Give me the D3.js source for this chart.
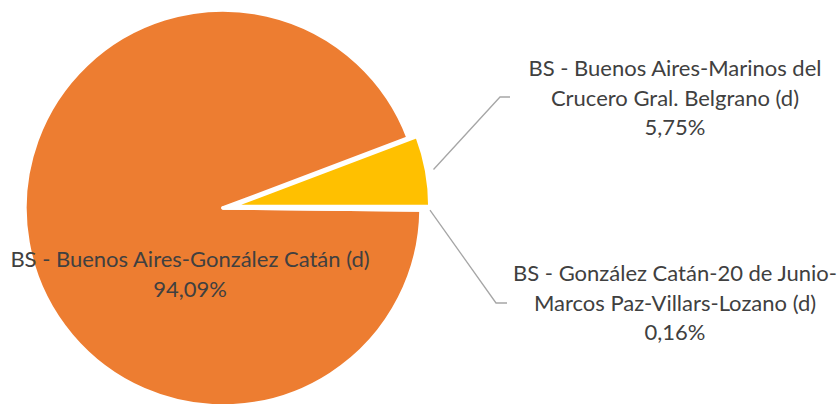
<!DOCTYPE html>
<html>
<head>
<meta charset="utf-8">
<script src="https://cdn.jsdelivr.net/npm/d3@7"></script>
<style>
  html, body { margin: 0; padding: 0; background: #ffffff; }
  svg { display: block; }
</style>
</head>
<body>
<svg id="chart" width="837" height="404"></svg>
<script>
// Share of services by route
const categories = [
  "BS - González Catán-20 de Junio-Marcos Paz-Villars-Lozano (d)",
  "BS - Buenos Aires-González Catán (d)",
  "BS - Buenos Aires-Marinos del Crucero Gral. Belgrano (d)"
];
const values = [0.16, 94.09, 5.75];
const valueLabels = ["0,16%", "94,09%", "5,75%"];
const labelLines = [
  ["BS - González Catán-20 de Junio-", "Marcos Paz-Villars-Lozano (d)"],
  ["BS - Buenos Aires-González Catán (d)"],
  ["BS - Buenos Aires-Marinos del", "Crucero Gral. Belgrano (d)"]
];
const colors = ["#A5A5A5", "#ED7D31", "#FFC000"];
const exploded = [0, 0, 1];

const svg = d3.select("#chart");
const cx = 223, cy = 208, radius = 198, explodeDist = 9;

const pie = d3.pie().sort(null).value(d => d).startAngle(Math.PI / 2).endAngle(Math.PI / 2 + 2 * Math.PI);
const arcs = pie(values);
const arc = d3.arc().innerRadius(0).outerRadius(radius);

const g = svg.append("g").attr("transform", `translate(${cx},${cy})`);

// draw the large slice first so the exploded slice sits on top
const drawOrder = [1, 0, 2];
drawOrder.forEach(i => {
  const a = arcs[i];
  const mid = (a.startAngle + a.endAngle) / 2;
  const off = exploded[i] * explodeDist;
  g.append("path")
    .attr("d", arc(a))
    .attr("transform", `translate(${Math.sin(mid) * off},${-Math.cos(mid) * off})`)
    .attr("fill", colors[i])
    .attr("stroke", "#ffffff")
    .attr("stroke-width", 3.5)
    .attr("stroke-linejoin", "round");
});

// leader lines (arc point -> elbow -> label)
const leaders = [
  { i: 2, r: radius + 7, elbow: [500, 97], end: [510, 97] },
  { i: 0, r: radius + 9, elbow: [496, 303], end: [507, 303] }
];
leaders.forEach(l => {
  const a = arcs[l.i];
  const ang = l.i === 2 ? (a.startAngle + a.endAngle) / 2 : a.endAngle;
  const off = exploded[l.i] * explodeDist;
  const midA = (a.startAngle + a.endAngle) / 2;
  const sx = cx + Math.sin(ang) * l.r + Math.sin(midA) * off;
  const sy = cy - Math.cos(ang) * l.r - Math.cos(midA) * off;
  svg.append("polyline")
    .attr("points", [[sx, sy], l.elbow, l.end].map(p => p.join(",")).join(" "))
    .attr("fill", "none")
    .attr("stroke", "#A6A6A6")
    .attr("stroke-width", 1.3);
});

// data labels
const labelPos = [
  { x: 675, y: 281 },
  { x: 190, y: 267 },
  { x: 675, y: 76 }
];
const lineH = 29.5;
labelPos.forEach((p, i) => {
  const t = svg.append("text")
    .attr("x", p.x)
    .attr("y", p.y)
    .attr("text-anchor", "middle")
    .attr("font-family", "Lato, 'Open Sans', sans-serif")
    .attr("font-size", 22)
    .attr("fill", "#404040");
  const lines = labelLines[i].concat([valueLabels[i]]);
  lines.forEach((s, k) => {
    t.append("tspan").attr("x", p.x).attr("y", p.y + k * lineH).text(s);
  });
});
</script>
</body>
</html>
